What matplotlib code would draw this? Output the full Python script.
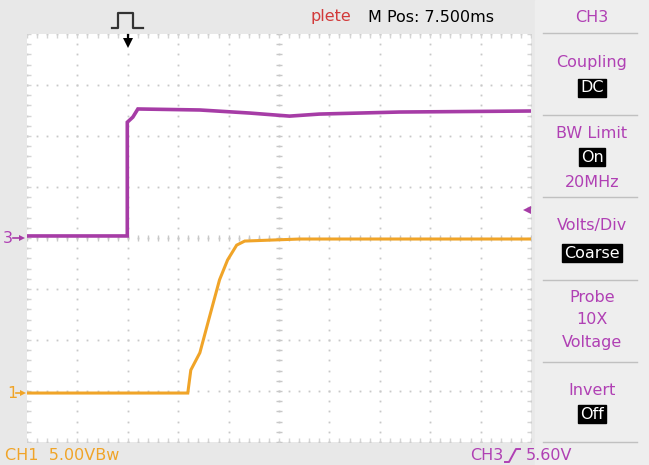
import numpy as np
import matplotlib
matplotlib.use("Agg")
import matplotlib.pyplot as plt

# trace values in screen divisions (x: 0..10 div, y: 0..8 div)
ch3_t = [0, 1.99, 1.99, 2.10, 2.20, 3.43, 4.42, 5.21, 5.80, 7.39, 10.0]
ch3_v = [4.04, 4.04, 6.27, 6.37, 6.53, 6.51, 6.45, 6.39, 6.43, 6.47, 6.49]

ch1_t = [0, 3.19, 3.25, 3.43, 3.62, 3.82, 3.98, 4.16, 4.32, 5.41, 10.0]
ch1_v = [0.96, 0.96, 1.41, 1.75, 2.45, 3.18, 3.57, 3.86, 3.94, 3.98, 3.98]

trig_pos = 2.0
trig_level = 4.55

menu_title = "CH3"
menu_items = [
    ("Coupling", 63), ("BW Limit", 133), ("20MHz", 182), ("Volts/Div", 225),
    ("Probe", 297), ("10X", 319), ("Voltage", 342), ("Invert", 390),
]
menu_boxes = [("DC", 88), ("On", 157), ("Coarse", 253), ("Off", 414)]
menu_seps = [33, 115, 197, 280, 362, 442]

PURPLE = "#a63ca6"
ORANGE = "#f0a428"
TXT_PURPLE = "#b040b4"

W, H = 649, 465
fig = plt.figure(figsize=(W / 100, H / 100), dpi=100)
fig.patch.set_facecolor("#e8e8e8")
fig.add_artist(plt.Rectangle((535 / W, 0), 114 / W, 1, color="#eeeeee", zorder=0))

# scope graticule axes
L, R, T, B = 27, 531, 34, 442
ax = fig.add_axes([L / W, (H - B) / H, (R - L) / W, (B - T) / H])
ax.set_xlim(0, 10)
ax.set_ylim(0, 8)
ax.set_facecolor("white")
for s in ax.spines.values():
    s.set_visible(False)
ax.set_xticks([])
ax.set_yticks([])

gc = "#c8c8c8"
yy = np.arange(0, 8.01, 0.2)
xx = np.arange(0, 10.01, 0.2)
for gx in range(11):
    ax.plot(np.full_like(yy, gx), yy, ls="none", marker="s", ms=1.3, color=gc, mew=0)
for gy in range(9):
    ax.plot(xx, np.full_like(xx, gy), ls="none", marker="s", ms=1.3, color=gc, mew=0)
# center cross ticks and border ticks
ax.plot(np.full_like(yy, 5), yy, ls="none", marker="_", ms=5, color=gc, mew=1)
ax.plot(xx, np.full_like(xx, 4), ls="none", marker="|", ms=5, color=gc, mew=1)
bc = "#d4d4d4"
ax.plot(xx, np.full_like(xx, 0.04), ls="none", marker="|", ms=3, color=bc, mew=1)
ax.plot(xx, np.full_like(xx, 7.96), ls="none", marker="|", ms=3, color=bc, mew=1)
ax.plot(np.full_like(yy, 0.03), yy, ls="none", marker="_", ms=3, color=bc, mew=1)
ax.plot(np.full_like(yy, 9.97), yy, ls="none", marker="_", ms=3, color=bc, mew=1)

ax.plot(ch3_t, ch3_v, color=PURPLE, lw=2.6, solid_joinstyle="miter")
ax.plot(ch1_t, ch1_v, color=ORANGE, lw=2.2, solid_joinstyle="miter")

# overlay axes in pixel coords for screen furniture
bg = fig.add_axes([0, 0, 1, 1])
bg.set_xlim(0, W)
bg.set_ylim(H, 0)
bg.axis("off")
bg.patch.set_alpha(0)

fnt = dict(family="DejaVu Sans", fontsize=11.5)

# trigger level marker
bg.plot([527], [B - trig_level * 51], marker="<", ms=6, color=PURPLE, mew=0)

# top bar
bg.plot([112, 118, 118, 133, 133, 143], [28, 28, 13, 13, 28, 28], color="#333333", lw=1.6)
tx = L + trig_pos * 50.4
bg.plot([tx, tx], [35, 41], color="black", lw=1.6)
bg.plot([tx], [43], marker="v", ms=7, color="black", mew=0)
bg.text(310, 17, "plete", color="#d23a3a", ha="left", va="center", **fnt)
bg.text(368, 17, "M Pos: 7.500ms", color="black", ha="left", va="center", **fnt)
bg.text(592, 17, menu_title, color=TXT_PURPLE, ha="center", va="center", **fnt)

# side menu
for y in menu_seps:
    bg.plot([543, 637], [y, y], color="#c0c0c0", lw=1)
for label, y in menu_items:
    bg.text(592, y, label, color=TXT_PURPLE, ha="center", va="center", **fnt)
for label, y in menu_boxes:
    bg.text(592, y, label, color="white", ha="center", va="center",
            bbox=dict(boxstyle="square,pad=0.12", fc="black", ec="black"), **fnt)

# channel ground markers
bg.text(3, 238, "3", color=TXT_PURPLE, ha="left", va="center", **fnt)
bg.plot([13, 20], [238, 238], color=PURPLE, lw=1.2)
bg.plot([22], [238], marker=">", ms=5, color=PURPLE, mew=0)
bg.text(7, 393, "1", color=ORANGE, ha="left", va="center", **fnt)
bg.plot([16, 21], [393, 393], color=ORANGE, lw=1.2)
bg.plot([23], [393], marker=">", ms=5, color=ORANGE, mew=0)

# bottom bar
bg.text(5, 455, "CH1  5.00VBw", color=ORANGE, ha="left", va="center", **fnt)
bg.text(470, 455, "CH3", color=TXT_PURPLE, ha="left", va="center", **fnt)
bg.plot([505, 509, 516, 520], [462, 462, 449, 449], color=TXT_PURPLE, lw=1.4)
bg.text(526, 455, "5.60V", color=TXT_PURPLE, ha="left", va="center", **fnt)

fig.savefig("out.png", dpi=100, facecolor=fig.get_facecolor())
